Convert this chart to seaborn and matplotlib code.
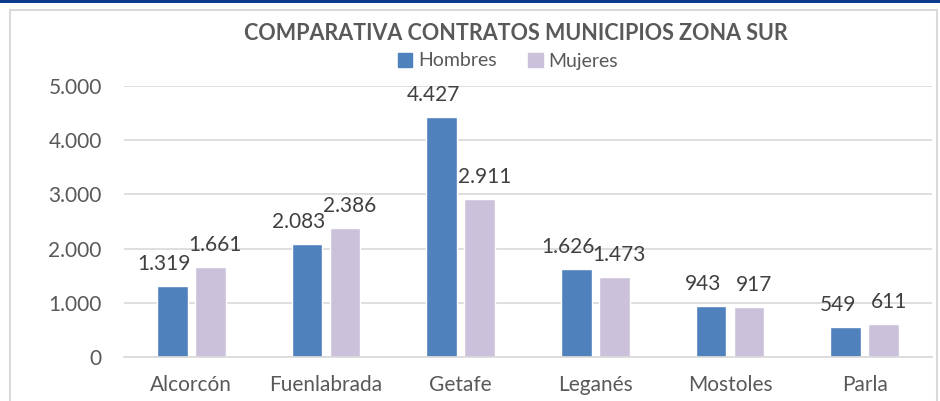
import pandas as pd
import numpy as np
import matplotlib.pyplot as plt
import seaborn as sns
from matplotlib.patches import Rectangle
from matplotlib.ticker import FuncFormatter

sns.set_theme(style="white")
plt.rcParams['font.family'] = ['Lato', 'DejaVu Sans']

MUNICIPIOS = ["Alcorcón", "Fuenlabrada", "Getafe", "Leganés", "Mostoles", "Parla"]
HOMBRES = [1319, 2083, 4427, 1626, 943, 549]
MUJERES = [1661, 2386, 2911, 1473, 917, 611]
SERIES = ["Hombres", "Mujeres"]

COLORS = ["#4F81BD", "#CCC1DA"]
TEXT = "#595959"
GRID = "#D9D9D9"

df = pd.DataFrame({
    "municipio": MUNICIPIOS * 2,
    "sexo": [SERIES[0]] * len(MUNICIPIOS) + [SERIES[1]] * len(MUNICIPIOS),
    "contratos": HOMBRES + MUJERES,
})

W, H = 940, 401
fig = plt.figure(figsize=(W / 100, H / 100), dpi=100)
ax = fig.add_axes([124 / W, (H - 357) / H, (932 - 124) / W, (357 - 86) / H])

sns.barplot(data=df, x="municipio", y="contratos", hue="sexo", palette=COLORS,
            width=0.565, gap=0.2, ax=ax, saturation=1, legend=False)

ax.set_ylim(0, 5000)
ax.set_yticks(np.arange(0, 5001, 1000))
ax.yaxis.set_major_formatter(FuncFormatter(lambda v, _: f"{int(v):,}".replace(",", ".")))
ax.grid(axis="y", color=GRID, linewidth=1.2)
ax.set_axisbelow(True)
for side in ["left", "right", "top"]:
    ax.spines[side].set_visible(False)
ax.spines["bottom"].set_color(GRID)
ax.spines["bottom"].set_linewidth(1.2)
ax.tick_params(axis="y", length=0, pad=16, labelsize=15, labelcolor=TEXT)
ax.tick_params(axis="x", length=0, pad=13, labelsize=15, labelcolor=TEXT)
ax.set_xlabel("")
ax.set_ylabel("")

# etiquetas de datos
dx = [-8, 5]
for cont, off in zip(ax.containers, dx):
    for bar in cont:
        v = bar.get_height()
        ax.annotate(f"{int(v):,}".replace(",", "."),
                    (bar.get_x() + bar.get_width() / 2, v),
                    xytext=(off, 12), textcoords="offset pixels",
                    ha="center", va="bottom", fontsize=15, color="#404040")

handles = [Rectangle((0, 0), 1, 1, color=c) for c in COLORS]
fig.legend(handles, SERIES, loc="center", bbox_to_anchor=(508 / W, 1 - 61 / H),
           ncol=2, frameon=False, fontsize=14, labelcolor=TEXT,
           handlelength=0.75, handleheight=0.75, handletextpad=0.3,
           columnspacing=1.6, borderaxespad=0, borderpad=0)

fig.text(516 / W, 1 - 34 / H, "COMPARATIVA CONTRATOS MUNICIPIOS ZONA SUR",
         ha="center", va="center", fontsize=15.5, fontweight="bold", color=TEXT)

# marco y banda superior
fig.add_artist(Rectangle((10 / W, -0.1), (937 - 10) / W, 1.1 - 10 / H,
                         transform=fig.transFigure, fill=False, ec=GRID, lw=1.5))
fig.add_artist(Rectangle((0, 1 - 3 / H), 1, 3 / H, transform=fig.transFigure,
                         fc="#0E3C8C", ec="none"))

fig.savefig("out.png", dpi=100)
